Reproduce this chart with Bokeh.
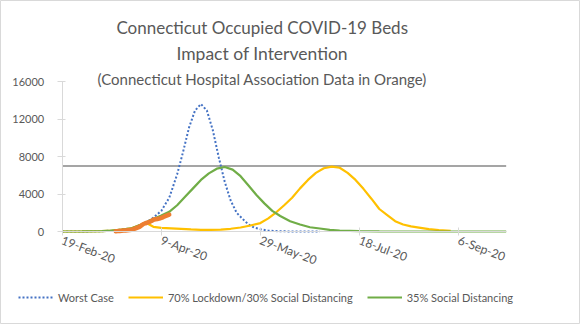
from bokeh.plotting import figure
from bokeh.models import Range1d, FixedTicker, Label, Legend, LegendItem
from bokeh.embed import file_html
from bokeh.resources import INLINE

# ---- data (x = days since 19-Feb-2020) ----
tick_days = [0, 50, 100, 150, 200]
tick_labels = ["19-Feb-20", "9-Apr-20", "29-May-20", "18-Jul-20", "6-Sep-20"]
y_ticks = [0, 4000, 8000, 12000, 16000]
x_span = [0, 224]          # first and last day shown on the date axis
capacity = 7000

worst_days = [0, 10, 20, 25, 30, 35, 40, 45, 50, 54, 58, 61, 64, 67, 70, 73, 76, 79,
              82, 85, 88, 91, 94, 97, 100, 104, 110, 120, 130]
worst_beds = [0, 5, 30, 90, 200, 350, 750, 1300, 2200, 3600, 6100, 8500, 11100, 12900,
              13600, 12900, 10800, 7900, 5300, 3300, 2000, 1350, 750, 400, 250, 90, 20, 0, 0]

lockdown_days = [0, 10, 20, 25, 30, 35, 40, 43, 46, 50, 55, 60, 65, 70, 75, 80, 85, 90,
                 95, 100, 104, 108, 112, 116, 120, 124, 128, 132, 136, 140, 144, 148, 152,
                 156, 160, 164, 168, 172, 176, 180, 185, 190, 196]
lockdown_beds = [0, 5, 30, 90, 200, 350, 750, 850, 500, 380, 330, 280, 220, 180, 170, 200,
                 290, 430, 640, 900, 1400, 2050, 2800, 3600, 4600, 5500, 6250, 6750, 6920,
                 6800, 6250, 5500, 4550, 3500, 2400, 1750, 1100, 750, 550, 420, 250, 150, 60]

social_days = [0, 10, 20, 25, 30, 35, 40, 45, 50, 54, 58, 62, 66, 70, 74, 78, 82, 86, 90,
               94, 98, 102, 106, 110, 115, 120, 125, 130, 135, 140, 150, 160, 180, 224]
social_beds = [0, 5, 30, 90, 200, 350, 750, 1250, 1700, 2100, 2800, 3700, 4600, 5500, 6200,
               6700, 6880, 6600, 5900, 4900, 3900, 3000, 2200, 1650, 1100, 750, 450, 320,
               180, 100, 40, 15, 0, 0]

actual_days = list(range(27, 55))
actual_beds = [20, 40, 60, 80, 100, 110, 130, 150, 190, 250, 330, 420, 500, 650, 800, 880,
               950, 1020, 1120, 1250, 1300, 1340, 1380, 1450, 1540, 1640, 1720, 1800]

title_lines = ["Connecticut Occupied COVID-19 Beds", "Impact of Intervention",
               "(Connecticut Hospital Association Data in Orange)"]
series_names = ["Worst Case", "70% Lockdown/30% Social Distancing", "35% Social Distancing"]

TXT = "#595959"
FONT = "Lato"
COLORS = ["#4472C4", "#FFC000", "#70AD47"]

# frame covers the whole canvas; axes are pinned at day 0 / 0 beds
PX_PER_DAY = 1.982
BEDS_PER_PX = 16000 / 150
x_range = Range1d(-61.7 / PX_PER_DAY, (580 - 61.7) / PX_PER_DAY)
y_range = Range1d(-(324 - 231) * BEDS_PER_PX, 231 * BEDS_PER_PX)

p = figure(width=580, height=324, output_backend="svg", toolbar_location=None,
           x_range=x_range, y_range=y_range, min_border=0)
p.title = None
p.outline_line_color = "#D9D9D9"
p.outline_line_width = 1
p.grid.visible = False
p.background_fill_color = "white"
p.border_fill_color = "white"

# capacity line across the date axis
p.line(x_span, [capacity, capacity], line_color="#A5A5A5", line_width=2)

r_worst = p.line(worst_days, worst_beds, line_color=COLORS[0], line_width=2, line_dash="2 2")
r_lock = p.line(lockdown_days, lockdown_beds, line_color=COLORS[1], line_width=2.2)
r_soc = p.line(social_days, social_beds, line_color=COLORS[2], line_width=2.2)
p.line(actual_days, actual_beds, line_color="#ED7D31", line_width=4.5, line_cap="round")

# axes
xa = p.xaxis[0]
xa.fixed_location = 0
xa.bounds = tuple(x_span)
xa.ticker = FixedTicker(ticks=tick_days)
xa.major_label_overrides = {d: l for d, l in zip(tick_days, tick_labels)}
xa.major_label_orientation = -0.36
xa.axis_line_color = "#D9D9D9"
xa.major_tick_line_color = "#D9D9D9"
xa.major_tick_in = 4
xa.major_tick_out = 4
xa.minor_tick_line_color = None
xa.major_label_text_color = TXT
xa.major_label_text_font = FONT
xa.major_label_text_font_size = "12px"
xa.major_label_standoff = 4

ya = p.yaxis[0]
ya.fixed_location = 0
ya.bounds = (y_ticks[0], y_ticks[-1])
ya.ticker = FixedTicker(ticks=y_ticks)
ya.axis_line_color = "#D9D9D9"
ya.major_tick_line_color = "#D9D9D9"
ya.major_tick_in = 3
ya.major_tick_out = 5
ya.minor_tick_line_color = None
ya.major_label_text_color = TXT
ya.major_label_text_font = FONT
ya.major_label_text_font_size = "11px"
ya.major_label_standoff = 13

# titles
title_y = [21760, 18990, 16320]
title_sizes = ["17px", "17.5px", "15px"]
for t, yy, fs in zip(title_lines, title_y, title_sizes):
    p.add_layout(Label(x=100.9, y=yy, text=t, text_align="center", text_baseline="alphabetic",
                       text_font=FONT, text_font_size=fs, text_color=TXT))

legend = Legend(items=[LegendItem(label=n, renderers=[r])
                       for n, r in zip(series_names, [r_worst, r_lock, r_soc])],
                orientation="horizontal", location=(18, 20),
                glyph_width=35, glyph_height=14, label_standoff=5, spacing=14,
                padding=0, margin=0, border_line_color=None, background_fill_alpha=0,
                label_text_font=FONT, label_text_font_size="11px", label_text_color=TXT)
p.add_layout(legend, "center")

open("out.html", "w").write(file_html(p, INLINE))
